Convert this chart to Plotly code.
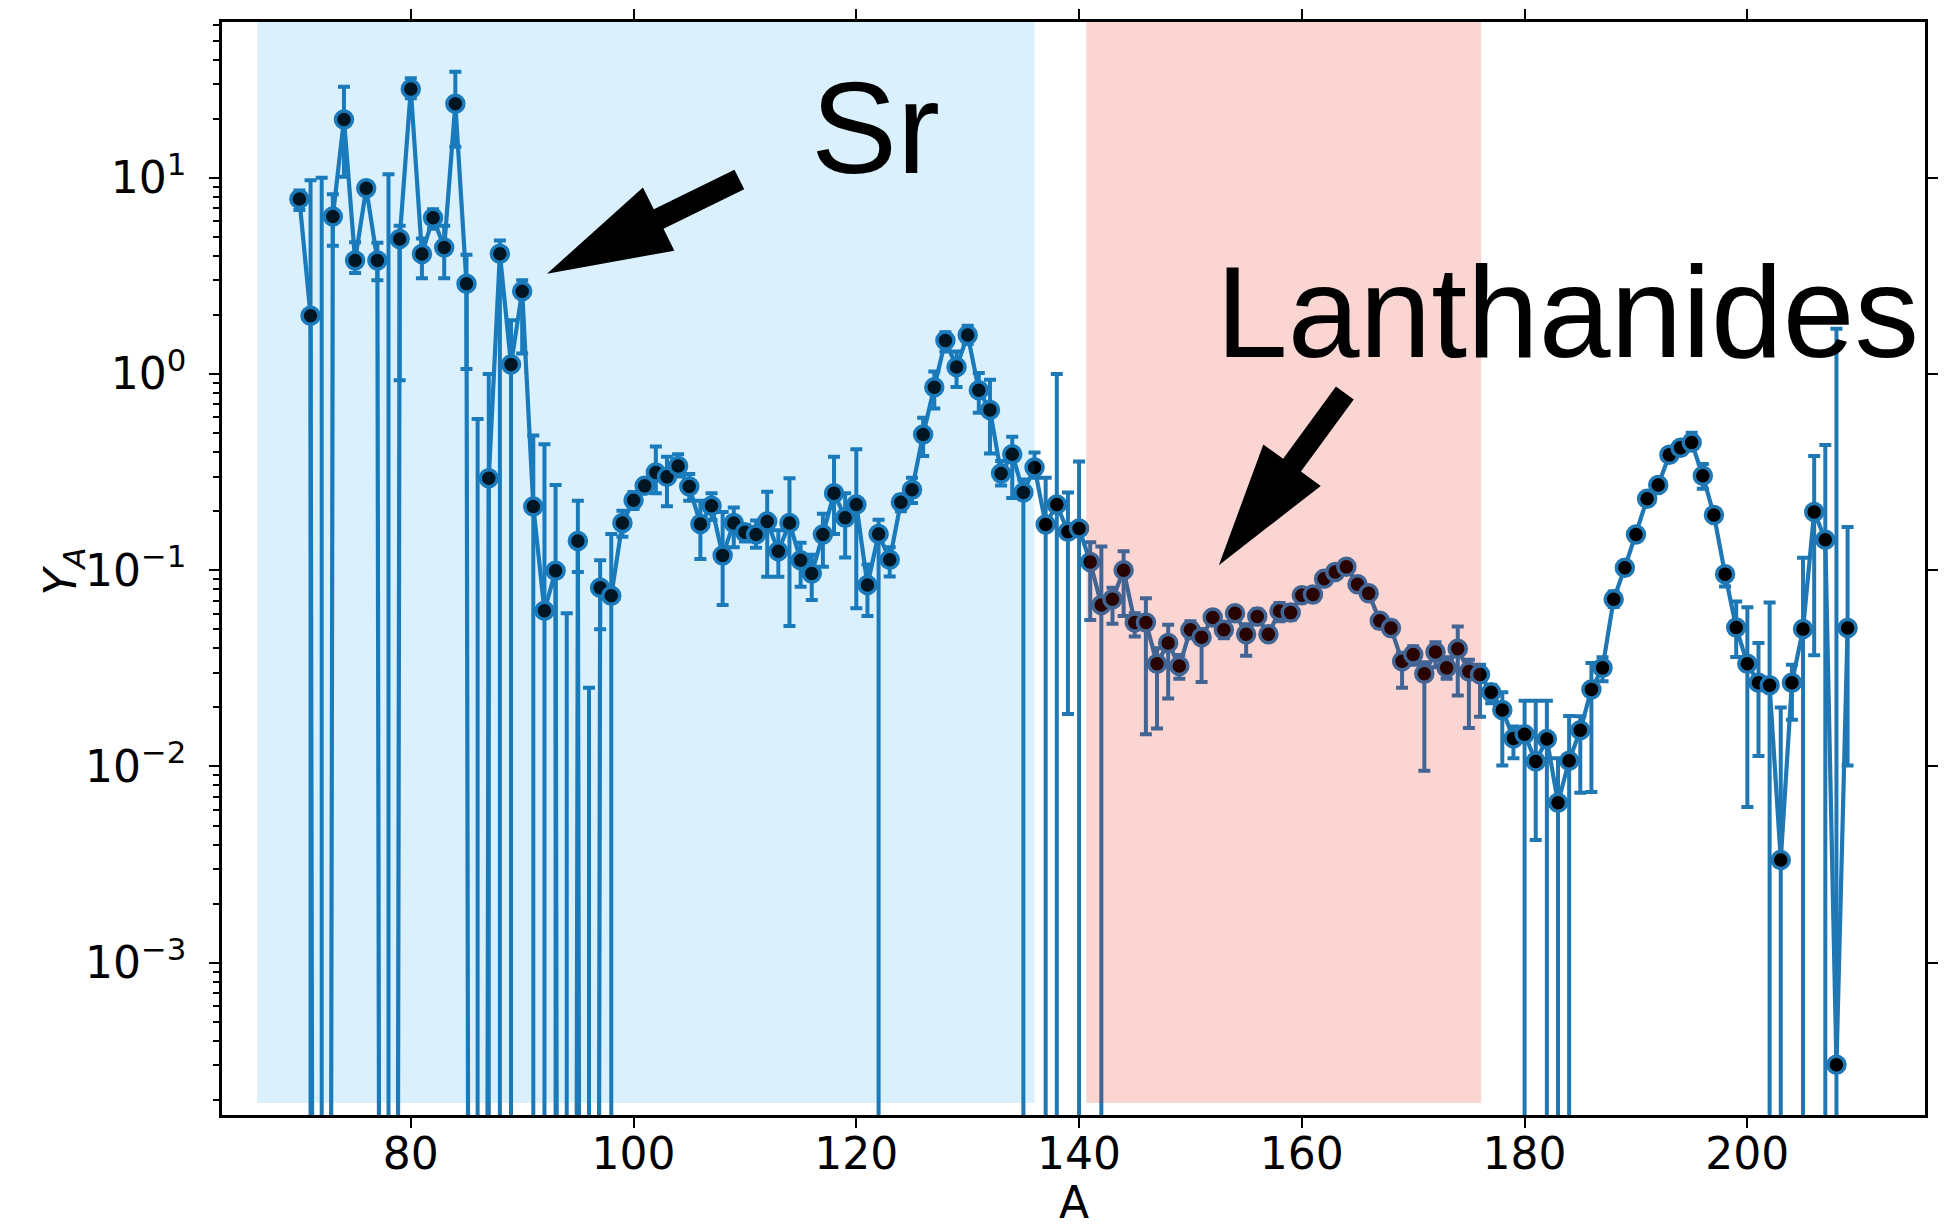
import numpy as np
import plotly.graph_objects as go

# ---------------- data ----------------
A = list(range(70, 210))

Y = [7.79, 1.98, 0, 6.35, 19.8, 3.79, 8.84, 3.79, 0, 4.87,
     28.3, 4.09, 6.25, 4.41, 23.8, 2.88, 0, 0.294, 4.1, 1.117,
     2.64, 0.211, 0.0622, 0.0993, 0, 0.141, 0, 0.0815, 0.0741, 0.174,
     0.227, 0.269, 0.315, 0.299, 0.340, 0.267, 0.172, 0.213, 0.119, 0.174,
     0.156, 0.152, 0.177, 0.125, 0.174, 0.1125, 0.0962, 0.152, 0.247, 0.185,
     0.216, 0.084, 0.153, 0.113, 0.222, 0.257, 0.492, 0.855, 1.48, 1.084,
     1.58, 0.825, 0.656, 0.311, 0.39, 0.249, 0.334, 0.171, 0.216, 0.157,
     0.163, 0.110, 0.0665, 0.0711, 0.1, 0.0542, 0.0542, 0.0334, 0.0426, 0.0325,
     0.0497, 0.0455, 0.0574, 0.0497, 0.0604, 0.0472, 0.0581, 0.0472, 0.062, 0.0608,
     0.0746, 0.0753, 0.0904, 0.098, 0.104, 0.0849, 0.0762, 0.0552, 0.0507, 0.0344,
     0.0372, 0.0297, 0.0383, 0.0318, 0.0398, 0.0305, 0.0294, 0.0239, 0.0194, 0.0139,
     0.0146, 0.0106, 0.0138, 0.00653, 0.0107, 0.0153, 0.0247, 0.0318, 0.0711, 0.103,
     0.152, 0.231, 0.272, 0.387, 0.421, 0.447, 0.303, 0.191, 0.0955, 0.051,
     0.0334, 0.0267, 0.0259, 0.00334, 0.0267, 0.0501, 0.198, 0.143, 0.000302, 0.0507]

Y_HI = [8.6, 9.7, 10.0, 8.24, 29.1, 4.69, 9.5, 4.66, 10.4, 5.69,
        32.1, 4.9, 6.9, 5.69, 34.7, 4.05, 0.59, 1.0, 4.78, 1.88,
        3.0, 0.486, 0.438, 0.272, 0.0604, 0.226, 0.0252, 0.1125, 0.153, 0.201,
        0.25, 0.29, 0.427, 0.379, 0.39, 0.309, 0.226, 0.247, 0.198, 0.209,
        0.17, 0.179, 0.251, 0.16, 0.294, 0.138, 0.12, 0.194, 0.378, 0.247,
        0.413, 0.107, 0.181, 0.131, 0.24, 0.296, 0.598, 1.03, 1.63, 1.3,
        1.76, 1.01, 0.935, 0.36, 0.479, 0.29, 0.398, 0.296, 1.0, 0.249,
        0.358, 0.139, 0.132, 0.0815, 0.125, 0.0604, 0.072, 0.04, 0.0527, 0.037,
        0.055, 0.05, 0.062, 0.054, 0.065, 0.053, 0.063, 0.051, 0.068, 0.066,
        0.08, 0.08, 0.096, 0.104, 0.11, 0.091, 0.082, 0.059, 0.055, 0.038,
        0.041, 0.034, 0.043, 0.036, 0.0517, 0.035, 0.033, 0.026, 0.0239, 0.016,
        0.0216, 0.0216, 0.0216, 0.011, 0.0181, 0.018, 0.0337, 0.036, 0.078, 0.11,
        0.16, 0.24, 0.285, 0.41, 0.45, 0.502, 0.348, 0.2, 0.1, 0.0692,
        0.0647, 0.0426, 0.0684, 0.02, 0.033, 0.1156, 0.382, 0.435, 1.7, 0.166]

Y_LO = [6.85, 0, 0, 4.5, 10.1, 3.27, 8.2, 3.0, 0, 0.93,
        25.4, 3.07, 5.5, 3.07, 14.4, 1.06, 0, 0, 0, 0,
        1.27, 0, 0, 0, 0, 0.098, 0, 0.050, 0, 0.148,
        0.205, 0.25, 0.247, 0.212, 0.30, 0.226, 0.114, 0.18, 0.0665, 0.131,
        0.14, 0.13, 0.0927, 0.0927, 0.052, 0.0824, 0.0705, 0.104, 0.153, 0.116,
        0.064, 0.0585, 0, 0.093, 0.2, 0.22, 0.382, 0.667, 1.3, 0.859,
        1.42, 0.634, 0.393, 0.27, 0.233, 0, 0.296, 0, 0, 0.0185,
        0, 0.0558, 0, 0.0533, 0.0585, 0.046, 0.0146, 0.0156, 0.0222, 0.028,
        0.045, 0.0269, 0.053, 0.045, 0.056, 0.0367, 0.053, 0.044, 0.055, 0.056,
        0.07, 0.07, 0.085, 0.092, 0.098, 0.079, 0.071, 0.051, 0.047, 0.0252,
        0.033, 0.0095, 0.032, 0.028, 0.023, 0.0157, 0.0179, 0.021, 0.0101, 0.011,
        0, 0.00422, 0, 0, 0, 0.00735, 0.0074, 0.0272, 0.065, 0.096,
        0.145, 0.22, 0.26, 0.37, 0.40, 0.42, 0.26, 0.18, 0.0826, 0.0361,
        0.00622, 0.0113, 0, 0, 0.0173, 0, 0.0369, 0, 0, 0.0101]

X_TICKS = [80, 100, 120, 140, 160, 180, 200]
Y_TICKS = [1e-3, 1e-2, 1e-1, 1, 10]
Y_TICKTEXT = ["10<sup>−3</sup>", "10<sup>−2</sup>", "10<sup>−1</sup>",
              "10<sup>0</sup>", "10<sup>1</sup>"]

SR_SPAN = (66.2, 136.0)
LN_SPAN = (140.65, 176.1)

# annotation anchors in data coords (A, Y)
SR_TEXT = (116.44, 9.81)
SR_TIP, SR_TAIL = (92.23, 3.24), (109.5, 9.8)
LN_TEXT = (153.06, 1.133)
LN_TIP, LN_TAIL = (152.55, 0.106), (163.86, 0.80)

# ---------------- layout geometry ----------------
W_FIG, H_FIG = 1958, 1231
ML, MT, MR, MB = 222, 15, 33, 116
PW, PH = W_FIG - ML - MR, H_FIG - MT - MB
XR = [63.05, 215.95]
YR = [-3.776, 1.7934]

BLUE = "#1f77b4"

y_arr = np.array(Y, dtype=float)
hi = np.array(Y_HI, dtype=float)
lo = np.array(Y_LO, dtype=float)
# non-positive values are clipped far below the axis (log-scale clipping)
y_plot = np.where(y_arr > 0, y_arr, 1e-30)
err_plus = hi - y_plot
err_minus = y_plot - lo

fig = go.Figure()
fig.add_trace(go.Scatter(
    x=A, y=y_plot, mode="lines+markers",
    line=dict(color=BLUE, width=4.2),
    marker=dict(color="black", size=17, line=dict(color=BLUE, width=3.5)),
    error_y=dict(type="data", symmetric=False, array=err_plus, arrayminus=err_minus,
                 color=BLUE, thickness=4, width=6),
    showlegend=False, cliponaxis=True))
fig.add_trace(go.Scatter(x=[], y=[], xaxis="x2", yaxis="y2", showlegend=False))


def to_px(a, yv):
    px = ML + (a - XR[0]) / (XR[1] - XR[0]) * PW
    py = MT + (YR[1] - np.log10(yv)) / (YR[1] - YR[0]) * PH
    return px, py


def to_paper(px, py):
    return (px - ML) / PW, 1 - (py - MT) / PH


def arrow_path(tip, tail, shaft_w=22.0, head_w=71.0, head_len=124.5):
    tx, ty = to_px(*tip)
    sx, sy = to_px(*tail)
    dx, dy = sx - tx, sy - ty
    L = np.hypot(dx, dy)
    ux, uy = dx / L, dy / L
    nx, ny = -uy, ux
    bx, by = tx + ux * head_len, ty + uy * head_len
    pts = [(tx, ty),
           (bx + nx * head_w / 2, by + ny * head_w / 2),
           (bx + nx * shaft_w / 2, by + ny * shaft_w / 2),
           (sx + nx * shaft_w / 2, sy + ny * shaft_w / 2),
           (sx - nx * shaft_w / 2, sy - ny * shaft_w / 2),
           (bx - nx * shaft_w / 2, by - ny * shaft_w / 2),
           (bx - nx * head_w / 2, by - ny * head_w / 2)]
    pp = [to_paper(*p) for p in pts]
    return "M " + " L ".join(f"{x:.5f},{y:.5f}" for x, y in pp) + " Z"


shapes = [
    dict(type="rect", xref="x", yref="paper", x0=SR_SPAN[0], x1=SR_SPAN[1],
         y0=0.011, y1=1.0, fillcolor="rgb(0,148,241)", opacity=0.14,
         line=dict(width=0), layer="above"),
    dict(type="rect", xref="x", yref="paper", x0=LN_SPAN[0], x1=LN_SPAN[1],
         y0=0.011, y1=1.0, fillcolor="rgb(233,17,0)", opacity=0.176,
         line=dict(width=0), layer="above"),
    dict(type="path", xref="paper", yref="paper", path=arrow_path(SR_TIP, SR_TAIL),
         fillcolor="black", line=dict(width=0), layer="above"),
    dict(type="path", xref="paper", yref="paper", path=arrow_path(LN_TIP, LN_TAIL),
         fillcolor="black", line=dict(width=0), layer="above"),
]

FS_BIG = 129
annotations = []
for label, (ax_, ay_), bearing in [("Sr", SR_TEXT, 0.05), ("Lanthanides", LN_TEXT, 0.073)]:
    annotations.append(dict(
        text=label, x=ax_, y=np.log10(ay_), xref="x", yref="y",
        xanchor="left", yanchor="bottom", showarrow=False,
        xshift=-(bearing * FS_BIG + 1), yshift=-(0.212 * FS_BIG + 1) + 6,
        font=dict(family="Liberation Sans, Arial, sans-serif", size=FS_BIG, color="black")))

# axis titles
annotations.append(dict(text="A", xref="paper", yref="paper", x=0.5,
                        y=-MB / PH, xanchor="center", yanchor="bottom",
                        showarrow=False,
                        font=dict(family="DejaVu Sans", size=44, color="black")))
annotations.append(dict(text="<i>Y</i><sub><i>A</i></sub>", xref="paper", yref="paper",
                        x=to_paper(63, 0)[0], y=to_paper(0, 568)[1], textangle=-90,
                        xanchor="center", yanchor="middle", showarrow=False,
                        font=dict(family="DejaVu Sans", size=44, color="black")))

minor_vals = [d * 10.0 ** k for k in range(-4, 2) for d in range(2, 10)]

axis_common = dict(showgrid=False, zeroline=False, showline=True, linecolor="black",
                   linewidth=2.5, ticks="outside", ticklen=10, tickwidth=2,
                   tickcolor="black")

fig.update_layout(
    width=W_FIG, height=H_FIG,
    margin=dict(l=ML, r=MR, t=MT, b=MB, pad=0),
    paper_bgcolor="white", plot_bgcolor="white",
    font=dict(family="DejaVu Sans", size=44, color="black"),
    xaxis=dict(range=XR, tickvals=X_TICKS, ticktext=[str(v) for v in X_TICKS],
               tickfont=dict(size=44), ticklabelstandoff=-12, **axis_common),
    yaxis=dict(type="log", range=YR, tickvals=Y_TICKS, ticktext=Y_TICKTEXT,
               tickfont=dict(size=44), ticklabelstandoff=14,
               minor=dict(tickvals=minor_vals, ticks="outside", ticklen=6,
                          tickwidth=2, tickcolor="black", showgrid=False),
               **axis_common),
    xaxis2=dict(overlaying="x", side="top", range=XR, tickvals=X_TICKS,
                showticklabels=False, **axis_common),
    yaxis2=dict(overlaying="y", side="right", type="log", range=YR, tickvals=Y_TICKS,
                showticklabels=False, **axis_common),
    shapes=shapes, annotations=annotations,
)

fig.write_html("out.html")
